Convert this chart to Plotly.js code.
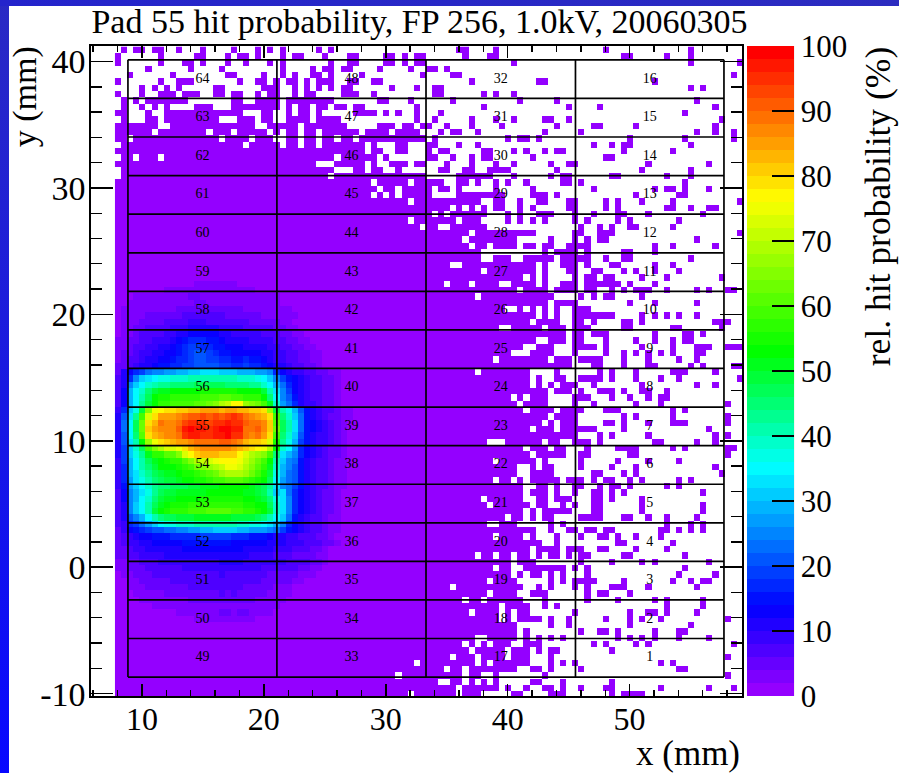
<!DOCTYPE html>
<html>
<head>
<meta charset="utf-8">
<script src="https://cdn.plot.ly/plotly-3.0.1.min.js"></script>
<style>
html,body{margin:0;padding:0;background:#fff;overflow:hidden}
#plot{position:absolute;left:0;top:0;width:899px;height:773px}
#stripL{position:absolute;left:0;top:0;width:9px;height:773px;background:linear-gradient(#2a2ac4,#0808ff);pointer-events:none}
#stripT{position:absolute;left:0;top:0;width:899px;height:6px;background:linear-gradient(90deg,#2424cc,#2c2cc0);pointer-events:none}
</style>
</head>
<body>
<div id="plot"></div>
<div id="stripL"></div>
<div id="stripT"></div>
<script>
// occupied bins, one entry per row from the top, as column numbers
const hitRows = [
"1 3-4 6-7 10 14 19 23 25 27 33 35 56-57 62 80 94",
"0 7 13-14 18 20-21 23 27 29-30 34 38-39 44-45 47 49-50 57 61-62 83-84 90 94",
"0 7 11-12 14 18 21 25 27 35 38-39 44-45 47 49-50 65 94 102",
"5 12 17 27 32 34-35 37-38 43 48 51-52 54",
"2 9 18-19 24 27 29 32-33 35 40 50 55-56 101",
"0 7 10-12 20 23-24 26 28-29 31 33-35 38-39 42-43 58 69-70 88",
"4 6 8 10 16-17 24-26 29 31 33 35 37-38 45 49 52-53 94 96",
"0 4 7-9 11-13 16-17 19-20 23 25-26 29 31-32 37-39 42 52-53 60 62 65",
"1 3 5-11 19-20 23-26 28-35 43-44 48 55 66 72 95",
"1 4 6 8 13-15 19-26 28 30-31 33-34 36-37 39-40 49 60 74 79 98",
"0-1 5 8-20 24-25 28 30-31 33 39-42 44 46 49 53 93",
"1 5-6 8-16 20-22 24-25 28-31 33-36 49 52 58 62 65 70-71 74 99",
"0-6 9-22 25-29 31-37 43-45 47-48 50-51 54 58 63 72 78-79 85 98",
"0-5 7-14 16-18 20-24 26 28-29 31-32 34-39 41-44 46-49 53 55-56 59 70 76 95 98 101",
"0-1 3-16 18-21 23-25 28-29 31-32 34-35 37-38 40-50 52 64 66-67 69 84 93 101",
"1-20 22-26 28-29 31-32 34-40 42 46-47 51-52 56 59 78 81 83-84 94",
"0-40 42-43 46-47 51 53-54 60-61 65 67 70 72-73 83 91",
"1-2 4-6 8-35 37-42 44 51-52 55 58 60-61 68 80-81",
"0-32 36-40 42 45-47 49-50 54 58 62 65 71 74-75 87 97",
"1-35 39-40 42-43 46 53-54 57-58 61-64 72 86 94",
"1-34 36-50 56-61 65 71 73-74 81-82 90 94",
"0-41 43-47 49-53 56-57 59 62 64 67 73-74 76 93",
"0-42 44-45 47-51 53-54 56 62 68 78 88 90-91 93 97",
"0-41 43 45 47-51 56-63 68-70 72 85 92-93",
"0-47 49-59 62-63 66 69-70 74-75 80 82 86 91 102",
"0-54 56 58 60 62-63 66 68 74-75 80 82 90-91 94 97-98",
"0-51 53 55-60 64 66 69-71 75 78 82-83 87 96",
"0-47 49-55 57-59 64 66 68 70 75 77 82 84 92",
"0-49 51-52 55-60 76 79 81 84-85 91",
"0-57 59-68 75-76 79-81 102",
"0-56 58-65 71 75 77 79-80 95",
"0-57 59-60 62-65 67-68 70-71 74-77 88 91 98",
"0-59 70 72-75 77 83-84 88",
"0-59 62-64 67-71 73-77 80 83-84 94",
"0-54 57-68 70 73-75 77 81-82 88 91",
"0-59 61-68 70 74-75 78-79 83 85 88 92",
"0-66 68 70 75 77-78 80-81 86 90 99",
"0-53 55-57 59-62 65-68 70 73-75 77-82 84 88",
"0-65 67-70 72-75 77-78 81 83 85-87 90 95 97 100-101",
"0-58 60-71 76 78 80-81 86",
"0-70 72-75 84 88 95",
"0-63 66 68 70 72 75-77",
"0-68 70 72 75-81 86 88 90 92 95",
"0-67 69-72 75-76 78 83-84 86 98-100",
"0-62 65-69 71-73 75-77 83-84 91-92 99",
"0-73 75-76 78-80 88 93-94 96",
"0-68 71-73 75-76 80 85 88 91 93-94",
"0-66 69-71 75-78 80 86 91 95-97 100-102",
"0-64 68-71 75 80 83 85 87 89 91 95-96",
"0-61 63-70 72-74 76-79 83 87 92 95",
"0-74 78-79 83 87-88 94 96 101-102",
"0-58 60-67 72 79 81 85 91-93 98",
"0-67 69 72-73 76-79 81 85 89 92 102",
"0-67 69 71 73-75 78 86 95 98",
"0-70 72-74 76 79-81 83 86-87 90",
"0-64 66 68-70 75-77 81 84 87 89-90",
"0-65 67-70 75 78 85 89 100",
"0-66 68-71 73-76 80-82 91 93",
"0-70 72-75 83 85 91 100",
"0-69 71 73-75 80-81 83 87 91-93 100",
"0-67 69-71 73-78 83 97",
"0-75 79 81 87 98 100",
"0-60 64-69 71-72 75-77 79 88-89 95 98",
"0-66 68-70 72-73 77 82-85 91 93 100-101",
"0-67 69-73 76-77 84-85 100",
"0-61 63-68 70 76 82 87 92",
"0-65 68 70-71 76 81 85 98",
"0-65 68-71 78-79 83 85 99",
"0-61 63-64 66 68-72 74-76 78 80-81 84 86 92 94",
"0-66 69-70 72 75-76 79 81-82 84 90 92",
"0-66 68-70 72 75 78-79 81 83 96",
"0-59 61-66 69-70 72-74 78-79 81 86",
"0-60 62-67 69-70 73 75 78-79 86 96",
"0-66 68 70-74 78-79 86 96",
"0-63 65-66 68 70-71 76-79 83-84 87 90 95",
"0-60 63-65 71 73 90 94 96",
"0-68 71 74-75 77-78 80-81 89-90 92 94 96",
"0-61 63-66 68 72 76 79-80 82 85 89",
"0-69 72 82-83 91",
"0-67 69-72 74-76 79-80 85 90",
"0-58 60-61 63-64 66-67 69 71-72 74 76-77 83-84 93",
"0-64 66-68 76 81 86 88 97",
"0-61 63-64 67-73 75 77 93",
"0-64 66 68-69 71 73 77 92 98",
"0-60 62-65 71 73 75-78 83 91 94 96-97",
"0-54 56-66 69 71 75 77 81-83 87 95",
"0-60 62-65 68-70 77 79-80 84",
"0-56 58-59 61-66 70 77 82 88 90 96",
"0-62 64-67 70 72 90 96",
"0-57 59-62 64 66-67 75 84 87-88 90 95",
"0-62 64 66-69 71 74 80 84 86 89 100",
"0-65 71 74 84 94",
"0-65 67 76 79-80 82 88 92-93",
"0-58 61-65 67 69 71 73 82 84 86 88 92 97",
"0-56 58 60 62-64 67-69 78 80 85 87 101",
"0-57 59-63 65-67 69 71-72 81",
"0-54 56-58 60-63 65-67 71 100",
"0-48 50-58 60 62-67 71 73 75 89 91",
"0-53 55-56 58-65 68-69 71 76 92-93",
"0-45 47-56 58-59 62 70 100",
"0-52 55-56 58 60 62 68-69 73 81",
"0-55 57-62 64 67 70-71 73 76 80-81 89 97 101",
"0-47 49-55 57-59 65-66 71-73 81 83-86"
];
// level bands of the spot, from row 37 down, starting at column 0
const spotFirstRow = 37;
const spotRows = [
"00000000000001111111",
"00000000111111111111111",
"000111111111221111111111111",
"001111111111122111111111111",
"01111111112222222222211111111",
"011112222223333333222222111111",
"01112222333344433333332222211",
"011223333444555554444333332211",
"0112333344556666655444443332211",
"11223344456788877655554444332211",
"112334455678998877666555544332211",
"1223445566789aa98776666655443322 11",
"1233455667889aa9988778776544332211",
"2234556778899aaaa99889887655433221",
"25689bccddeeffgggfffeeeddc86544332211",
"358cfghiijjjkkkkkkkkjjjihfc9765433221",
"35cfhjkllmmmmnnnnnmmmmlljheb865433221",
"36ehjmoppqqqqqrrrrrrqqqqokgc965433221",
"36ehknqrrssssstttuuttsssqmhca75433221",
"36ehloqssttttuuvwyzCCxwvtpjdb85443221",
"48fiowBCDDEEFFGGGFGGFFEEDxokiea75433211",
"5agltADGGGHIJJKJKJKLKIHGFDtmjfb75432211",
"5bhnvDFIHHIKLLLKLLMLLJIIHEunkgb7654321",
"5bhnvEGHHHJMNMMLMNNMMIIJHEvnkgb7654321",
"5ahmuDFGHHILMMLLMMNLLIHIGDtmjfa7544321",
"5agkqxBDEFGGHIIIIJJIHFEEDArlie97544321",
"59fjntwyAABDFGHHHHHGFEDCByqjhd86543221",
"59filpssuuwACEFFFEEECAyxwtmgec86543221",
"49ehknpqrssuwyzABCCCBzxvtqkfcb75433211",
"48ehkmoqqqrstvwxyzBBAywuspjeca75433211",
"48egjlnoppqrrstuvxyyyxvtroieba75433211",
"48dgikmnoopqqrrsttuuutsrqnhdba75433211",
"47dfhjlmmnnnoopppqqqqqponlgcb975433211",
"36cegilnoopppppqqqqqqpponkfgb86543221",
"36cehjmoppqqqqrrrrrrrqqpomigc86543221",
"35cfhknpqrrrsssssssssrrqqnjgc86543221",
"35cfhkoqrssstttuuuuttssrqojgc86543221",
"35acehkmnnoooppppppoooonmkhfb75433211",
"3489bdfhiijjjkkkkkkkjjiihgec865433211",
"246789aabbccddeeffffeedddcb9765433211",
"234566777888889999988877765544333221",
"2344556666677777777666666555444333221",
"22344555555666666666655555444333221",
"22334444555555555555554444333222211",
"11223334444444444555544444443333221",
"1122233333344444444444443333332211",
"011222333333333334333333322222111",
"0011222223333333333333332222211",
"00111222222233333333322222111",
"00011111222222222323222221111",
"00001111111122222222222111110",
"000000111111111111111111111",
"000000000011111112212211110",
"0000000000000111111111100"
];
const levelChars = "0123456789abcdefghijklmnopqrstuvwxyzABCDEFGHIJKLMN";
const binLeft = 7.785, binBottom = -10.33, binSize = 0.5, binCount = 103;

const padXEdges = [8.85, 21.07, 33.3, 45.56, 57.74];
const padYEdges = [-8.69, -5.64, -2.59, 0.46, 3.51, 6.56, 9.62, 12.67, 15.72, 18.77, 21.82, 24.87, 27.93, 30.98, 34.03, 37.08, 40.14];
const padColumns = [[49,50,51,52,53,54,55,56,57,58,59,60,61,62,63,64],
                    [33,34,35,36,37,38,39,40,41,42,43,44,45,46,47,48],
                    [17,18,19,20,21,22,23,24,25,26,27,28,29,30,31,32],
                    [1,2,3,4,5,6,7,8,9,10,11,12,13,14,15,16]];

const xTicks = [10,20,30,40,50];
const yTicks = [-10,0,10,20,30,40];
const yTickText = ["-10","0","10","20","30","40"];
const barTicks = [0,10,20,30,40,50,60,70,80,90,100];

const paletteStops = [[0,[148,0,255]],[13,[0,0,255]],[35,[0,255,255]],[53,[0,255,0]],[77,[255,255,0]],[100,[255,0,0]]];
const paletteBands = 50;

const titleText = "Pad 55 hit probability, FP 256, 1.0kV, 20060305";
const font = "Liberation Serif, Times New Roman, serif";

// decode bins
const z = [];
for (let r = 0; r < binCount; r++) {
  const row = new Array(binCount).fill(null);
  hitRows[r].split(" ").forEach(t => {
    const p = t.split("-").map(Number);
    for (let c = p[0]; c <= (p.length > 1 ? p[1] : p[0]); c++) row[c] = 1;
  });
  const s = (spotRows[r - spotFirstRow] || "").replace(/ /g, "");
  for (let c = 0; c < s.length; c++) {
    const k = levelChars.indexOf(s[c]);
    if (row[c] !== null) row[c] = 2 * k + 1;
  }
  z.unshift(row);
}

// stepped palette
function colourAt(v) {
  for (let i = 1; i < paletteStops.length; i++) {
    const a = paletteStops[i-1], b = paletteStops[i];
    if (v <= b[0]) {
      const f = (v - a[0]) / (b[0] - a[0]);
      return "rgb(" + a[1].map((q, j) => Math.round(q + (b[1][j] - q) * f)).join(",") + ")";
    }
  }
  return "rgb(255,0,0)";
}
const colorscale = [];
for (let k = 0; k < paletteBands; k++) {
  const col = colourAt(k / (paletteBands - 1) * 100);
  colorscale.push([k / paletteBands, col], [(k + 1) / paletteBands, col]);
}

// pad outline and labels
const lineX = [], lineY = [];
padXEdges.forEach(x => { lineX.push(x, x, null); lineY.push(padYEdges[0], padYEdges[padYEdges.length-1], null); });
padYEdges.forEach(y => { lineX.push(padXEdges[0], padXEdges[padXEdges.length-1], null); lineY.push(y, y, null); });
const textX = [], textY = [], textS = [];
padColumns.forEach((col, i) => col.forEach((n, j) => {
  textX.push((padXEdges[i] + padXEdges[i+1]) / 2);
  textY.push((padYEdges[j] + padYEdges[j+1]) / 2);
  textS.push(String(n));
}));

const plotL = 91, plotR = 742, plotT = 46, plotB = 696;
const data = [
  {type:"heatmap", z:z, x0:binLeft + binSize/2, dx:binSize, y0:binBottom + binSize/2, dy:binSize,
   zmin:0, zmax:100, zsmooth:false, colorscale:colorscale, hoverinfo:"skip",
   colorbar:{thickness:46.5, thicknessmode:"pixels", len:1, lenmode:"fraction", x:(746.7-plotL)/(plotR-plotL), xanchor:"left", xpad:0,
     y:0, yanchor:"bottom", ypad:0, outlinewidth:0,
     tickmode:"array", tickvals:barTicks, ticks:"inside", ticklen:22, tickwidth:1.6, tickcolor:"#000",
     tickfont:{family:font, size:31, color:"#000"}}},
  {type:"scatter", mode:"lines", x:lineX, y:lineY, line:{color:"#000", width:1.7}, hoverinfo:"skip", showlegend:false},
  {type:"scatter", mode:"text", x:textX, y:textY, text:textS, textposition:"middle center",
   textfont:{family:font, size:14, color:"#000"}, hoverinfo:"skip", showlegend:false}
];
const layout = {
  width:899, height:773, autosize:false, showlegend:false,
  paper_bgcolor:"#fff", plot_bgcolor:"#fff",
  margin:{l:plotL, r:899-plotR, t:plotT, b:773-plotB, pad:0},
  title:{text:titleText, font:{family:font, size:34, color:"#000"}, x:419.5/899, xanchor:"center", y:1-21/773, yanchor:"middle"},
  xaxis:{range:[5.82,59.22], tickmode:"array", tickvals:xTicks, ticks:"inside", ticklen:12, tickwidth:1.6, tickcolor:"#000",
    minor:{tickmode:"linear", tick0:0, dtick:2, ticks:"inside", ticklen:6, tickwidth:1.4, tickcolor:"#000"},
    showgrid:false, zeroline:false, showline:true, linecolor:"#000", linewidth:1.6, mirror:"allticks",
    ticklabelstandoff:-6, tickfont:{family:font, size:32, color:"#000"}},
  yaxis:{range:[-10.19,41.23], tickmode:"array", tickvals:yTicks, ticktext:yTickText, ticks:"inside", ticklen:22, tickwidth:1.6, tickcolor:"#000",
    minor:{tickmode:"linear", tick0:0, dtick:2, ticks:"inside", ticklen:11, tickwidth:1.4, tickcolor:"#000"},
    showgrid:false, zeroline:false, showline:true, linecolor:"#000", linewidth:1.6, mirror:"allticks",
    ticklabelstandoff:-3, tickfont:{family:font, size:34, color:"#000"}},
  shapes:[{type:"line", xref:"paper", yref:"paper", x0:(793.3-plotL)/651, x1:(793.3-plotL)/651, y0:0, y1:1, line:{color:"#000", width:1.5}}],
  annotations:[
    {text:"x (mm)", xref:"paper", yref:"paper", x:1, xanchor:"right", y:-57/650, yanchor:"middle", showarrow:false, font:{family:font, size:35, color:"#000"}},
    {text:"y (mm)", xref:"paper", yref:"paper", x:-66/651, xanchor:"center", y:1.002, yanchor:"top", textangle:-90, showarrow:false, font:{family:font, size:34, color:"#000"}},
    {text:"rel. hit probability (%)", xref:"paper", yref:"paper", x:(878-plotL)/651, xanchor:"center", y:1.002, yanchor:"top", textangle:-90, showarrow:false, font:{family:font, size:35.5, color:"#000"}}
  ]
};
Plotly.newPlot("plot", data, layout, {displayModeBar:false, staticPlot:true});
</script>
</body>
</html>
